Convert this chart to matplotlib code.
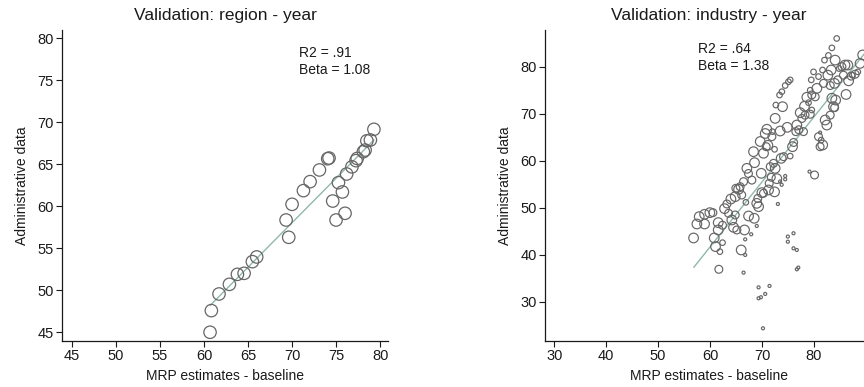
import matplotlib
matplotlib.use("Agg")
import matplotlib.pyplot as plt
import numpy as np

plt.rcParams['font.family'] = ['Liberation Sans', 'DejaVu Sans']

# ---------------- data: region - year ----------------
region_x = [60.68, 60.83, 61.70, 62.88, 63.79, 64.55, 65.49, 65.98, 69.32, 69.62,
            70.00, 71.29, 72.05, 73.11, 74.05, 74.20, 74.62, 75.00, 75.27, 75.72,
            76.02, 76.20, 76.80, 77.27, 77.40, 78.10, 78.30, 78.90, 78.50, 79.30]
region_y = [45.00, 47.58, 49.56, 50.71, 51.90, 52.02, 53.41, 53.97, 58.37, 56.31,
            60.24, 61.87, 62.94, 64.33, 65.67, 65.75, 60.63, 58.37, 62.82, 61.71,
            59.17, 63.85, 64.70, 65.44, 65.70, 66.50, 66.70, 67.90, 67.80, 69.17]
region_fit_x = [60.7, 79.3]
region_fit_y = [48.2, 67.9]
region_stats = ["R2 = .91", "Beta = 1.08"]

# ---------------- data: industry - year ----------------
# (x, y, weight)
industry_pts = [
    (56.83, 43.6, 3), (57.47, 46.57, 3), (57.92, 48.13, 3), (58.95, 46.57, 3),
    (58.95, 48.63, 3), (59.97, 48.98, 3), (60.55, 48.98, 2), (60.81, 43.6, 3),
    (61.06, 41.76, 3), (61.58, 45.3, 3), (61.58, 46.86, 3), (61.9, 40.69, 1),
    (61.7, 36.94, 2), (62.41, 42.6, 1), (62.4, 46.3, 2), (62.8, 49.83, 3),
    (63.25, 50.82, 2), (63.57, 48.84, 2), (64.02, 51.88, 3), (64.2, 47.42, 3),
    (64.53, 45.86, 3), (64.85, 52.38, 3), (64.85, 48.48, 2), (65.17, 45.3, 2),
    (64.98, 54.15, 2), (65.5, 53.94, 3), (65.8, 54.5, 2), (66.0, 41.05, 3),
    (66.1, 52.73, 2), (66.46, 55.57, 2), (66.65, 45.3, 3), (66.77, 43.3, 0.3),
    (66.77, 39.99, 0.3), (66.46, 36.23, 0.3), (66.9, 51.17, 1), (67.1, 58.4, 3),
    (67.42, 48.27, 3), (67.4, 57.3, 2), (68.06, 55.9, 2), (68.38, 61.94, 3),
    (68.51, 47.78, 3), (68.57, 59.6, 3), (67.93, 44.38, 0.3), (69.0, 50.96, 3),
    (69.0, 46.15, 0.3), (69.2, 52.0, 2), (69.35, 50.25, 3), (69.35, 33.1, 0.3),
    (69.35, 30.78, 0.3), (69.8, 31.0, 0.3), (69.67, 64.1, 3), (69.87, 57.34, 3),
    (69.99, 53.23, 3), (70.2, 24.4, 0.3), (70.3, 53.1, 2), (70.3, 61.6, 3),
    (70.63, 65.8, 3), (70.82, 63.0, 2), (70.95, 66.7, 3), (71.14, 63.3, 3),
    (71.27, 53.8, 3), (70.63, 31.7, 0.3), (71.46, 33.4, 0.3), (71.4, 55.2, 2),
    (71.6, 58.75, 2), (71.8, 56.5, 2), (71.91, 65.13, 2), (72.0, 66.2, 1),
    (72.23, 59.46, 2), (72.43, 53.4, 3), (72.43, 62.44, 1), (72.55, 69.02, 3),
    (72.55, 58.4, 3), (72.68, 71.85, 1), (72.87, 56.2, 3), (73.07, 50.82, 0.3),
    (73.39, 73.98, 1), (73.52, 66.33, 3), (73.7, 60.52, 3), (73.84, 74.69, 1),
    (73.97, 71.5, 3), (74.16, 60.88, 2), (74.48, 76.0, 1), (74.87, 67.11, 3),
    (75.1, 76.8, 1), (75.44, 77.2, 1), (74.48, 56.77, 0.3), (74.48, 56.06, 0.3),
    (73.5, 55.6, 0.3), (73.8, 54.9, 0.3), (74.99, 43.9, 0.3), (74.99, 42.8, 0.3),
    (76.08, 44.6, 0.3), (76.08, 41.4, 0.3), (76.72, 41.05, 0.3), (76.72, 36.94, 0.3),
    (77.0, 37.3, 0.3), (75.44, 61.0, 1), (75.89, 63.0, 3), (76.1, 63.9, 2),
    (76.53, 66.2, 2), (76.72, 67.6, 3), (77.1, 66.6, 2), (77.37, 70.23, 3),
    (77.69, 69.0, 2), (78.0, 66.2, 2), (78.2, 71.6, 3), (78.3, 69.7, 2),
    (78.65, 73.5, 3), (78.97, 72.35, 1), (79.3, 75.0, 1), (79.3, 69.9, 2),
    (79.6, 70.8, 1), (79.5, 77.2, 1), (79.94, 78.9, 1), (79.6, 74.0, 2),
    (80.26, 73.6, 2), (80.13, 56.98, 2), (79.17, 57.7, 0.3), (80.58, 75.4, 3),
    (80.9, 77.9, 1), (80.9, 65.13, 2), (81.2, 66.0, 0.3), (81.41, 64.4, 1),
    (81.7, 63.36, 3), (81.2, 63.0, 2), (81.67, 79.3, 1), (81.86, 76.46, 2),
    (82.05, 81.4, 1), (82.18, 68.67, 3), (82.5, 67.6, 3), (82.7, 78.2, 3),
    (82.8, 82.4, 1), (83.15, 76.0, 2), (83.15, 69.7, 2), (83.34, 79.3, 3),
    (83.47, 84.0, 1), (83.47, 73.3, 3), (83.79, 71.5, 3), (83.98, 76.46, 3),
    (84.1, 81.4, 3), (84.2, 72.9, 3), (84.4, 86.0, 1), (84.6, 77.2, 2),
    (84.0, 71.3, 2), (84.87, 79.6, 1), (85.4, 80.0, 2), (85.7, 78.2, 2),
    (86.0, 80.35, 3), (86.2, 74.1, 3), (86.55, 80.35, 3), (86.7, 77.0, 3),
    (87.2, 78.0, 2), (87.4, 78.2, 1), (87.96, 78.4, 2), (88.47, 78.9, 1),
    (88.9, 80.7, 3), (89.4, 82.5, 3),
]
industry_x = [p[0] for p in industry_pts]
industry_y = [p[1] for p in industry_pts]
industry_w = [p[2] for p in industry_pts]
industry_fit_x = [56.9, 91.0]
industry_fit_y = [37.4, 84.5]
industry_stats = ["R2 = .64", "Beta = 1.38"]

# ---------------- styling ----------------
EDGE = '#666666'
FIT = '#8fb9aa'
TXT = '#1a1a1a'

fig = plt.figure(figsize=(8.64, 3.87), dpi=100)
ax1 = fig.add_axes([62 / 864, 1 - 341 / 387, 326 / 864, 311 / 387])
ax2 = fig.add_axes([545.3 / 864, 1 - 341 / 387, 326.7 / 864, 311 / 387])


def style(ax, title, xticks, yticks, xlim, ylim):
    for s in ['top', 'right']:
        ax.spines[s].set_visible(False)
    for s in ['left', 'bottom']:
        ax.spines[s].set_linewidth(0.9)
        ax.spines[s].set_color(TXT)
    ax.set_xlim(*xlim)
    ax.set_ylim(*ylim)
    ax.set_xticks(xticks)
    ax.set_yticks(yticks)
    ax.tick_params(direction='out', length=4, width=0.8, labelsize=10.5,
                   colors=TXT, pad=2)
    ax.set_title(title, fontsize=12.5, color=TXT, pad=7)
    ax.set_xlabel('MRP estimates - baseline', fontsize=10, color=TXT, labelpad=4)
    ax.set_ylabel('Administrative data', fontsize=10, color=TXT, labelpad=6)


# left panel
ax1.plot(region_fit_x, region_fit_y, color=FIT, lw=1.0, zorder=1)
ax1.scatter(region_x, region_y, s=80, facecolors='none', edgecolors=EDGE,
            linewidths=0.9, zorder=2)
ax1.text(70.83, 79.1, "\n".join(region_stats), fontsize=10, color=TXT,
         va='top', ha='left', linespacing=1.25)
style(ax1, 'Validation: region - year', [45, 50, 55, 60, 65, 70, 75, 80],
      [45, 50, 55, 60, 65, 70, 75, 80], (43.86, 80.9), (43.96, 81.0))

# right panel
w = np.array(industry_w, dtype=float)
sizes = w * 16
ax2.plot(industry_fit_x, industry_fit_y, color=FIT, lw=1.0, zorder=1)
ax2.scatter(industry_x, industry_y, s=sizes, facecolors='none', edgecolors=EDGE,
            linewidths=0.85, zorder=2)
ax2.text(57.63, 85.3, "\n".join(industry_stats), fontsize=10, color=TXT,
         va='top', ha='left', linespacing=1.25)
style(ax2, 'Validation: industry - year', [30, 40, 50, 60, 70, 80],
      [30, 40, 50, 60, 70, 80], (28.27, 91.2), (21.7, 87.8))

fig.savefig('out.png', dpi=100)
